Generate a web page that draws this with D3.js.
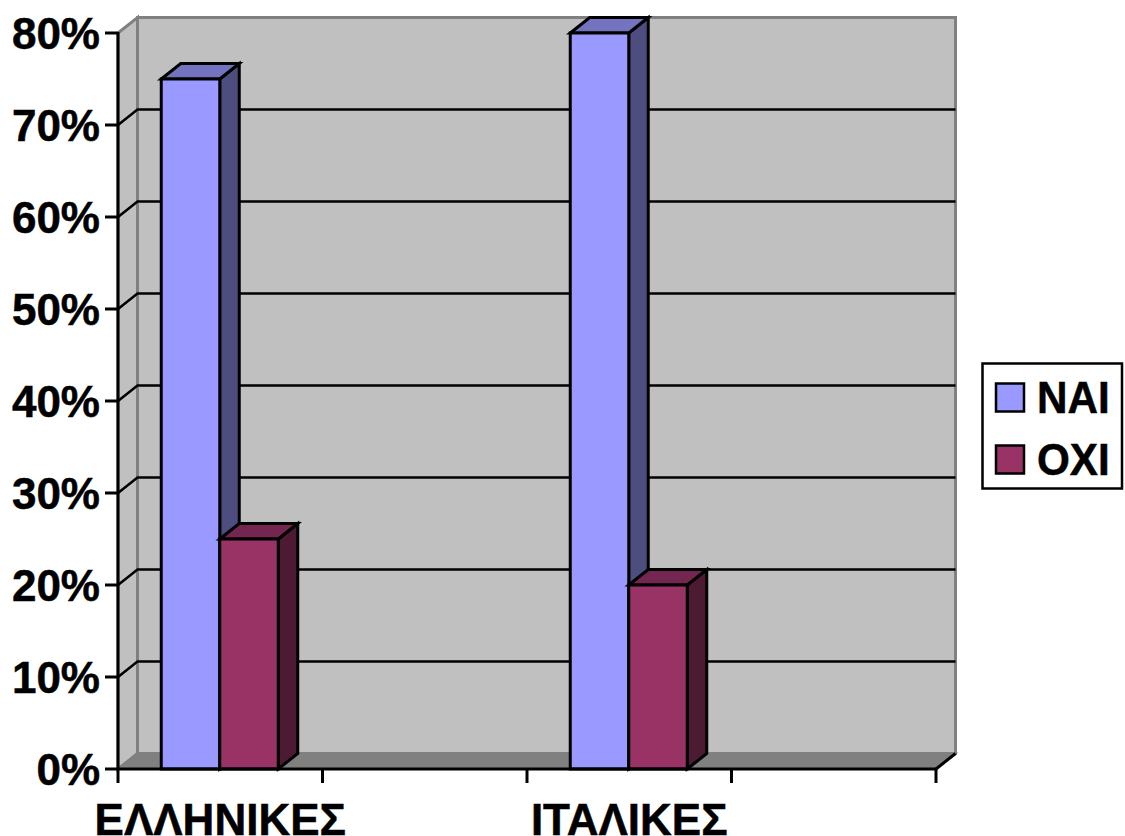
<!DOCTYPE html>
<html><head><meta charset="utf-8">
<script src="https://cdn.jsdelivr.net/npm/d3@7/dist/d3.min.js"></script>
<style>html,body{margin:0;padding:0;background:#fff;overflow:hidden}svg{display:block}text{font-family:"Liberation Sans",Arial,sans-serif;font-weight:700;fill:#000;stroke:#000;stroke-width:.5px}</style>
</head><body><svg id="c" width="1125" height="836"></svg>
<script>
const categories = ["ΕΛΛΗΝΙΚΕΣ","","ΙΤΑΛΙΚΕΣ",""];
const seriesNames = ["ΝΑΙ","ΟΧΙ"];
const naiValues = [75,null,80,null];
const oxiValues = [25,null,20,null];
const yTicks = [0,10,20,30,40,50,60,70,80];
const frontColors = ["#9999ff","#993366"];
const sideColors = ["#4d4d80","#4d1a33"];
const topColors = ["#7373bf","#732650"];

const svg = d3.select("#c");
const dx = 19.5, dy = -15.5;
const x = d3.scaleBand().domain(categories.map((d,i)=>i)).range([118,936]);
const barW = 58.5;
const y = d3.scaleLinear().domain([0,80]).range([769,33]);
const poly = pts => pts.map(p=>p.join(",")).join(" ");
const x0=118,x1=936,y0=y(0),yT=y(80);

// walls
svg.append("polygon").attr("points",poly([[x0+dx,yT+dy],[x1+dx,yT+dy],[x1+dx,y0+dy],[x0+dx,y0+dy]])).attr("fill","#c0c0c0").attr("stroke","#808080").attr("stroke-width",3);
svg.append("polygon").attr("points",poly([[x0,yT],[x0+dx,yT+dy],[x0+dx,y0+dy],[x0,y0]])).attr("fill","#c0c0c0").attr("stroke","#808080").attr("stroke-width",3);
svg.append("polygon").attr("points",poly([[x0,y0],[x0+dx,y0+dy],[x1+dx,y0+dy],[x1,y0]])).attr("fill","#808080").attr("stroke","#808080").attr("stroke-width",2);

// gridlines
yTicks.filter(t=>t>0&&t<80).forEach(t=>{
  svg.append("polyline").attr("points",poly([[x0,y(t)],[x0+dx,y(t)+dy],[x1+dx,y(t)+dy]])).attr("fill","none").attr("stroke","#000").attr("stroke-width",2.5);
});

// bars
function bar(i,s,v){
  const l = x(i)+(x.bandwidth()-2*barW)/2-0.5+s*barW, r=l+barW, t=y(v), b=y(0);
  const g = svg.append("g").attr("stroke","#000").attr("stroke-width",3).attr("stroke-linejoin","miter");
  g.append("polygon").attr("points",poly([[r,t],[r+dx,t+dy],[r+dx,b+dy],[r,b]])).attr("fill",sideColors[s]);
  g.append("polygon").attr("points",poly([[l,t],[l+dx,t+dy],[r+dx,t+dy],[r,t]])).attr("fill",topColors[s]);
  g.append("rect").attr("x",l).attr("y",t).attr("width",barW).attr("height",b-t).attr("fill",frontColors[s]);
}
[naiValues,oxiValues].forEach((vals,s)=>vals.forEach((v,i)=>{ if(v!=null) bar(i,s,v); }));

// axes
const axisG = svg.append("g").attr("stroke","#000").attr("stroke-width",3);
axisG.append("line").attr("x1",x0).attr("x2",x0).attr("y1",yT-1).attr("y2",y0+14);
axisG.append("line").attr("x1",x0-13).attr("x2",x1+1).attr("y1",y0).attr("y2",y0);
axisG.append("line").attr("x1",x1).attr("x2",x1+dx).attr("y1",y0).attr("y2",y0+dy);
yTicks.filter(t=>t>0).forEach(t=>axisG.append("line").attr("x1",x0-13).attr("x2",x0).attr("y1",y(t)).attr("y2",y(t)));
categories.forEach((c,i)=>{ const px=x(i)+x.bandwidth(); axisG.append("line").attr("x1",px).attr("x2",px).attr("y1",y0).attr("y2",y0+14); });

// tick labels
yTicks.forEach(t=>svg.append("text").attr("x",100).attr("y",y(t)+15.5).attr("text-anchor","end").attr("font-size",44).text(t+"%"));
categories.forEach((c,i)=>{ if(c) svg.append("text").attr("x",x(i)+x.bandwidth()/2).attr("y",835).attr("text-anchor","middle").attr("font-size",44).text(c); });

// legend
svg.append("rect").attr("x",982.5).attr("y",363.5).attr("width",139.5).attr("height",125).attr("fill","#fff").attr("stroke","#000").attr("stroke-width",2.5);
seriesNames.forEach((n,i)=>{
  const ly=[383.5,445.5][i];
  svg.append("rect").attr("x",996).attr("y",ly).attr("width",28).attr("height",28).attr("fill",frontColors[i]).attr("stroke","#000").attr("stroke-width",2.5);
  svg.append("text").attr("transform",`translate(1037,${ly+29.5}) scale(.96,1)`).attr("font-size",44).text(n);
});
</script></body></html>
